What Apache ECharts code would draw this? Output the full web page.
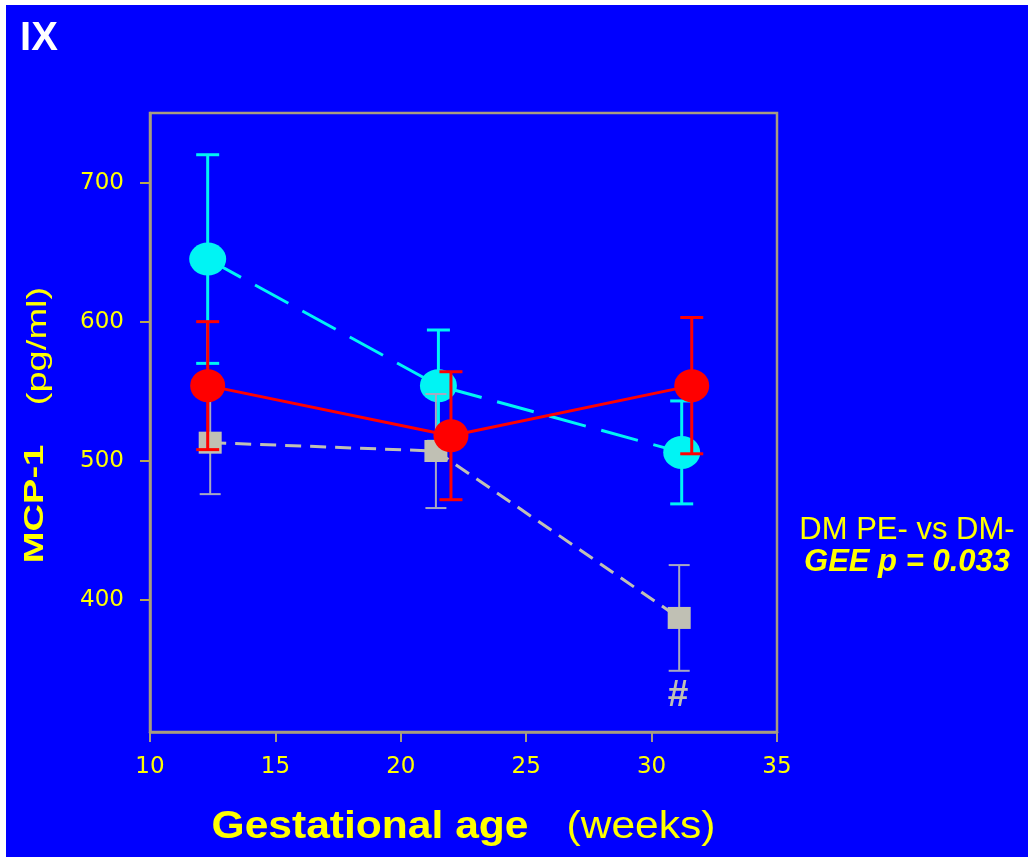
<!DOCTYPE html>
<html>
<head>
<meta charset="utf-8">
<script src="https://cdn.jsdelivr.net/npm/echarts@6/dist/echarts.min.js"></script>
<style>
html,body{margin:0;padding:0;background:#ffffff;}
#chart{width:1028px;height:857px;}
</style>
</head>
<body>
<div id="chart"></div>
<script>
// ---- data ----
const xTicks = [10, 15, 20, 25, 30, 35];
const yTicks = [400, 500, 600, 700];

// DM PE- (cyan, dashed)
const cyanX = [12.3, 21.5, 31.2];
const cyanY = [645, 554, 506];
const cyanErr = [75, 40, 37];

// DM PE+ (red, solid)
const redX = [12.3, 22.0, 31.6];
const redY = [554, 518, 554];
const redErr = [46, 46, 49];

// DM- (gray, dashed)
const grayX = [12.4, 21.4, 31.1];
const grayY = [513, 507, 387];
const grayErr = [37, 41, 38];

const AXIS = '#a89c80';
const YEL = '#ffff00';

function pts(xs, ys) { return xs.map((x, i) => [x, ys[i]]); }
function errData(xs, ys, es) { return xs.map((x, i) => [x, ys[i], es[i]]); }

function errSeries(data, color, width, cap, z) {
  return {
    type: 'custom',
    z: z,
    silent: true,
    data: data,
    renderItem: function (params, api) {
      const x = api.value(0), y = api.value(1), e = api.value(2);
      const t = api.coord([x, y + e]);
      const b = api.coord([x, y - e]);
      const st = { stroke: color, lineWidth: width };
      return {
        type: 'group',
        children: [
          { type: 'line', shape: { x1: t[0], y1: t[1], x2: b[0], y2: b[1] }, style: st },
          { type: 'line', shape: { x1: t[0] - cap / 2, y1: t[1], x2: t[0] + cap / 2, y2: t[1] }, style: st },
          { type: 'line', shape: { x1: b[0] - cap / 2, y1: b[1], x2: b[0] + cap / 2, y2: b[1] }, style: st }
        ]
      };
    }
  };
}

const chart = echarts.init(document.getElementById('chart'), null, { renderer: 'canvas' });
chart.setOption({
  backgroundColor: '#0000ff',
  animation: false,
  grid: {
    left: 150, right: 251, top: 113, bottom: 125,
    show: true, borderColor: AXIS, borderWidth: 2.5, backgroundColor: 'transparent'
  },
  xAxis: {
    type: 'value', min: 10, max: 35, interval: 5,
    axisLine: { show: true, onZero: false, lineStyle: { color: AXIS, width: 2.5 } },
    axisTick: { show: true, inside: false, length: 10, lineStyle: { color: AXIS, width: 2 } },
    axisLabel: { color: YEL, fontSize: 23, fontFamily: 'DejaVu Sans', margin: 24,
      customValues: xTicks },
    splitLine: { show: false }
  },
  yAxis: {
    type: 'value', min: 305, max: 750,
    axisLine: { show: true, onZero: false, lineStyle: { color: AXIS, width: 2.5 } },
    axisTick: { show: true, inside: false, length: 10, lineStyle: { color: '#b8a850', width: 2 },
      customValues: yTicks },
    axisLabel: { color: YEL, fontSize: 23, fontFamily: 'DejaVu Sans', margin: 26,
      customValues: yTicks },
    splitLine: { show: false }
  },
  series: [
    errSeries(errData(cyanX, cyanY, cyanErr), '#00f4f4', 3, 23, 2),
    {
      type: 'line', z: 3, data: pts(cyanX, cyanY),
      symbol: 'circle', symbolSize: [37, 33],
      itemStyle: { color: '#00f4f4' },
      lineStyle: { color: '#00f4f4', width: 3, type: [38, 16] }
    },
    errSeries(errData(grayX, grayY, grayErr), '#a8a8c0', 2, 21, 4),
    {
      type: 'line', z: 5, data: pts(grayX, grayY),
      symbol: 'rect', symbolSize: [23, 22],
      itemStyle: { color: '#c0c0b4' },
      lineStyle: { color: '#c0c0b4', width: 3, type: [16, 9] }
    },
    errSeries(errData(redX, redY, redErr), '#ff0000', 3, 23, 6),
    {
      type: 'line', z: 7, data: pts(redX, redY),
      symbol: 'circle', symbolSize: [35, 33],
      itemStyle: { color: '#ff0000' },
      lineStyle: { color: '#ff0000', width: 3 }
    }
  ],
  graphic: [
    { type: 'rect', left: 0, top: 0, shape: { width: 1028, height: 5 }, style: { fill: '#ffffff' }, z: 100 },
    { type: 'rect', left: 0, top: 0, shape: { width: 6, height: 857 }, style: { fill: '#ffffff' }, z: 100 },
    { type: 'text', x: 39, y: 39, style: { text: 'IX', fill: '#ffffff', font: 'bold 40px "Liberation Sans", Arial',
      textAlign: 'center', textVerticalAlign: 'middle' }, z: 100 },
    { type: 'text', x: 370, y: 828, scaleX: 1.12,
      style: { text: 'Gestational age', fill: YEL, font: 'bold 38px "Liberation Sans", Arial',
      textAlign: 'center', textVerticalAlign: 'middle' }, z: 100 },
    { type: 'text', x: 641, y: 828, scaleX: 1.12,
      style: { text: '(weeks)', fill: YEL, font: '38px "Liberation Sans", Arial',
      textAlign: 'center', textVerticalAlign: 'middle' }, z: 100 },
    { type: 'text', x: 35, y: 504, rotation: Math.PI / 2, scaleX: 1.36,
      style: { text: 'MCP-1', fill: YEL, font: 'bold 28px "Liberation Sans", Arial',
      textAlign: 'center', textVerticalAlign: 'middle' }, z: 100 },
    { type: 'text', x: 38, y: 346, rotation: Math.PI / 2, scaleX: 1.36,
      style: { text: '(pg/ml)', fill: YEL, font: '28px "Liberation Sans", Arial',
      textAlign: 'center', textVerticalAlign: 'middle' }, z: 100 },
    { type: 'text', x: 907, y: 530,
      style: { text: 'DM PE- vs DM-', fill: YEL, font: '31px "Liberation Sans", Arial',
      textAlign: 'center', textVerticalAlign: 'middle' }, z: 100 },
    { type: 'text', x: 907, y: 562,
      style: { text: 'GEE p = 0.033', fill: YEL, font: 'italic bold 31px "Liberation Sans", Arial',
      textAlign: 'center', textVerticalAlign: 'middle' }, z: 100 },
    { type: 'text', x: 678, y: 696,
      style: { text: '#', fill: '#c0c0b4', font: 'bold 37px "Liberation Sans", Arial',
      textAlign: 'center', textVerticalAlign: 'middle' }, z: 100 }
  ]
});
</script>
</body>
</html>
